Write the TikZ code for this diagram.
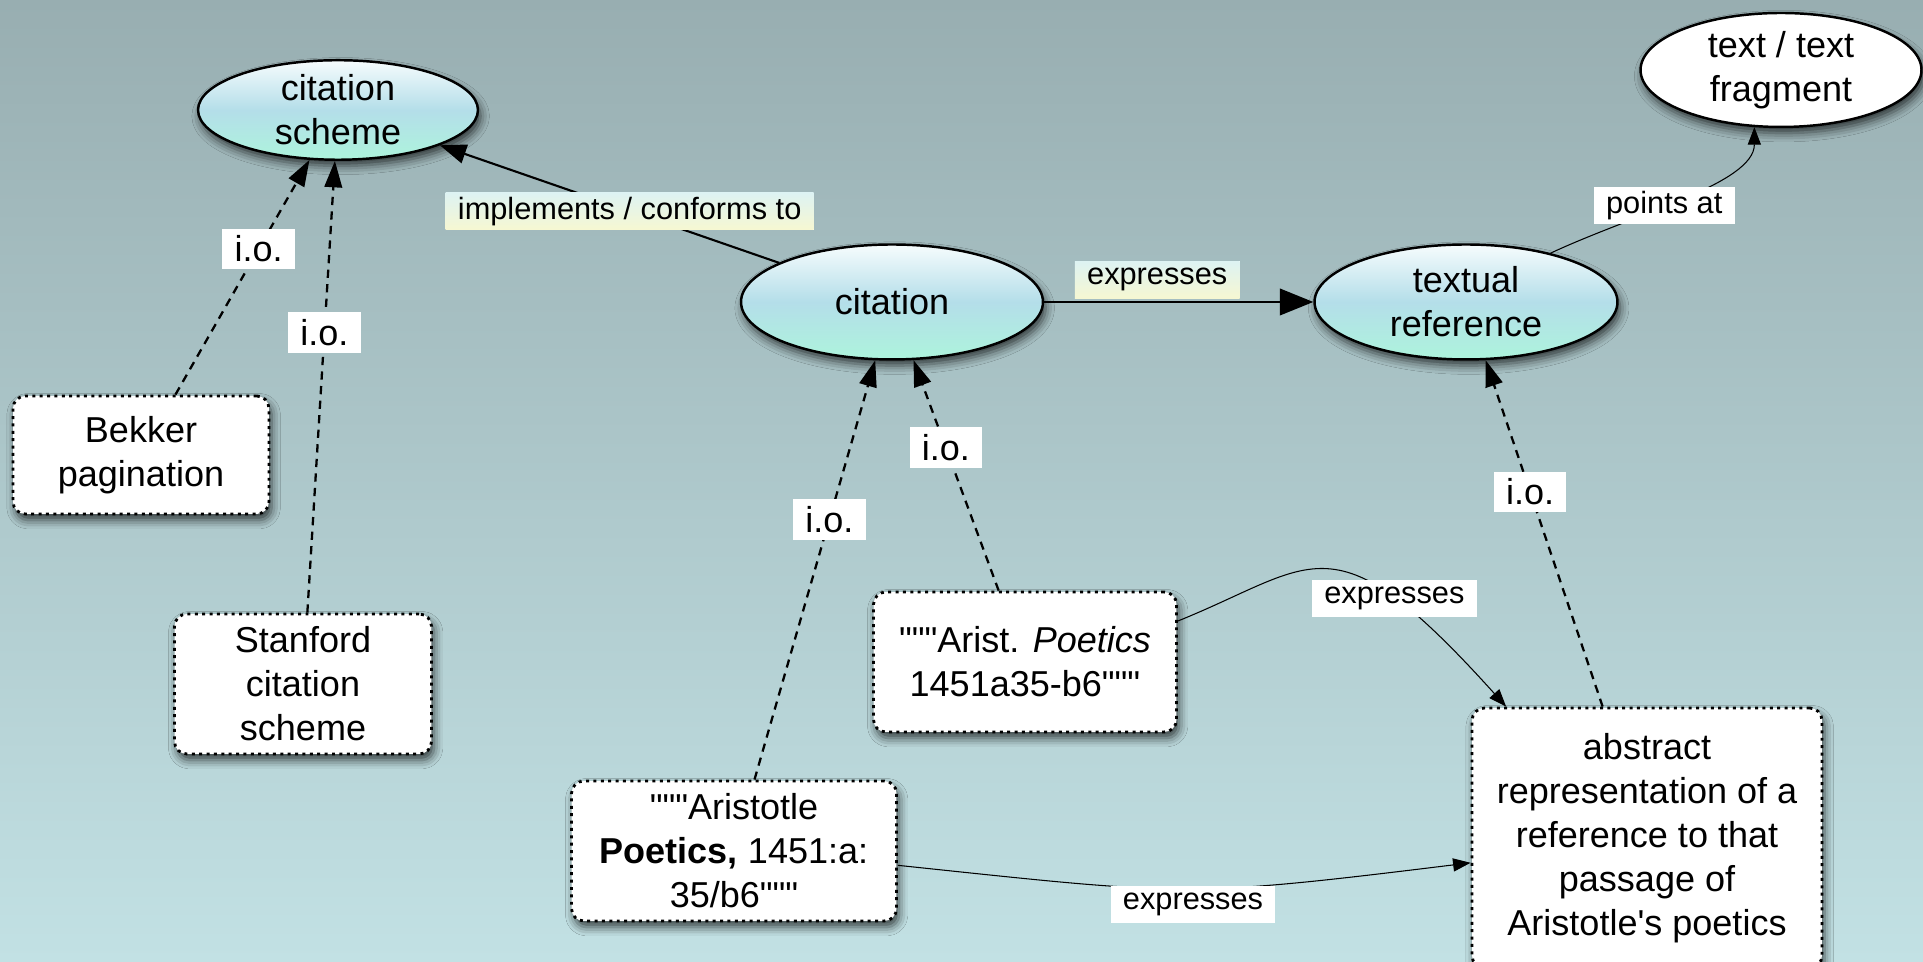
\documentclass[tikz,border=0pt]{standalone}
\usepackage{fontspec}
\setmainfont{Liberation Sans}[Ligatures=TeXOff]
\usetikzlibrary{arrows.meta}
\usetikzlibrary{shapes.geometric}
\usetikzlibrary{shadows.blur}
\definecolor{bgtop}{HTML}{98AEB1}
\definecolor{bgbot}{HTML}{C2E1E4}
\definecolor{elltop}{HTML}{F6FCFD}
\definecolor{ellmid}{HTML}{B4DEE9}
\definecolor{ellbot}{HTML}{ADF4DC}
\definecolor{lbltop}{HTML}{DDF3F3}
\definecolor{lblbot}{HTML}{F6F7D2}
\newcommand{\nodefont}{\fontsize{20.5}{25}\selectfont}
\newcommand{\edgefont}{\fontsize{17.5}{21}\selectfont}

\begin{document}
\begin{tikzpicture}[x=0.02cm, y=0.02cm,
    softshadow/.style={blur shadow={shadow xshift=1.5pt, shadow yshift=-3.5pt,
      shadow blur radius=5pt, shadow opacity=70}},
    concept/.style={ellipse, draw, line width=1.4pt, inner sep=0pt, align=center,
      top color=elltop, bottom color=ellbot, middle color=ellmid,
      font=\nodefont, softshadow},
    instance/.style={rectangle, rounded corners=7pt, draw, fill=white,
      line width=1.6pt, dash pattern=on 1.7pt off 2.5pt, align=center,
      font=\nodefont, softshadow},
    lbl/.style={fill=white, inner xsep=7pt, inner ysep=0pt, minimum height=21pt,
      font=\edgefont},
    glbl/.style={lbl, top color=lbltop, bottom color=lblbot},
    iolbl/.style={lbl, font=\nodefont, minimum height=23pt},
    io/.style={-{Triangle[length=15pt,width=10pt]}, line width=1.3pt,
      dash pattern=on 4.7pt off 3.6pt},
    rel/.style={-{Triangle[length=15pt,width=11pt]}, line width=1.2pt},
    bigrel/.style={-{Triangle[length=19pt,width=15pt]}, line width=1.5pt},
    thin/.style={-{Triangle[length=10pt,width=7.5pt]}, line width=0.6pt}]

  \shade[top color=bgtop, bottom color=bgbot] (0,0) rectangle (1923,962);
  \useasboundingbox (0,0) rectangle (1923,962);

  % classes
  \node[concept, minimum width=5.6cm, minimum height=1.72cm] (scheme) at (338,852) {citation\\scheme};
  \node[concept, minimum width=6.04cm, minimum height=2.3cm] (citation) at (892,660) {citation};
  \node[concept, minimum width=6.06cm, minimum height=2.3cm] (textual) at (1466,660) {textual\\reference};
  \node[concept, top color=white, bottom color=white, middle color=white,
    minimum width=5.62cm, minimum height=2.28cm] (fragment) at (1781,892) {text / text\\fragment};

  % instances
  \node[instance, minimum width=5.12cm, minimum height=2.36cm] (bekker) at (141,507) {Bekker\\pagination};
  \node[instance, minimum width=5.14cm, minimum height=2.8cm] (stanford) at (303,278) {Stanford\\citation\\scheme};
  \node[instance, minimum width=6.06cm, minimum height=2.8cm] (arist) at (1025,300) {"""Arist. \textit{Poetics}\\1451a35-b6"""};
  \node[instance, minimum width=6.5cm, minimum height=2.8cm] (aristotle) at (734,111) {"""Aristotle\\\textbf{Poetics,} 1451:a:\\35/b6"""};
  \node[instance, minimum width=7cm, minimum height=5.2cm] (abstract) at (1647,124)
    {abstract\\representation of a\\reference to that\\passage of\\Aristotle's poetics};

  % relations
  \draw[io] (bekker) -- node[iolbl, pos=.62] {i.o.} (scheme);
  \draw[io] (stanford) -- node[iolbl, pos=.62] {i.o.} (scheme);
  \draw[io] (aristotle) -- node[iolbl, pos=.62] {i.o.} (citation);
  \draw[io] (arist) -- node[iolbl, pos=.62] {i.o.} (citation);
  \draw[io] (abstract) -- node[iolbl, pos=.62] {i.o.} (textual);

  \draw[rel] (citation) -- node[glbl, pos=.44] {implements / conforms to} (scheme);
  \draw[bigrel] (citation) -- node[glbl, above=1.5pt, pos=.42] {expresses} (textual);
  \draw[thin] (textual.30) to[out=25, in=-90, in looseness=.6] node[lbl, pos=.42] {points at} (fragment.-115);

  \draw[thin] (arist.15) .. controls +(22:150) and +(132:260) ..
    node[lbl, pos=.73] {expresses} (abstract.137);
  \draw[thin] (aristotle.-5) .. controls +(-6:290) and +(187:290) ..
    node[lbl, pos=.52, yshift=-0.32cm] {expresses} (abstract.188);
\end{tikzpicture}
\end{document}
